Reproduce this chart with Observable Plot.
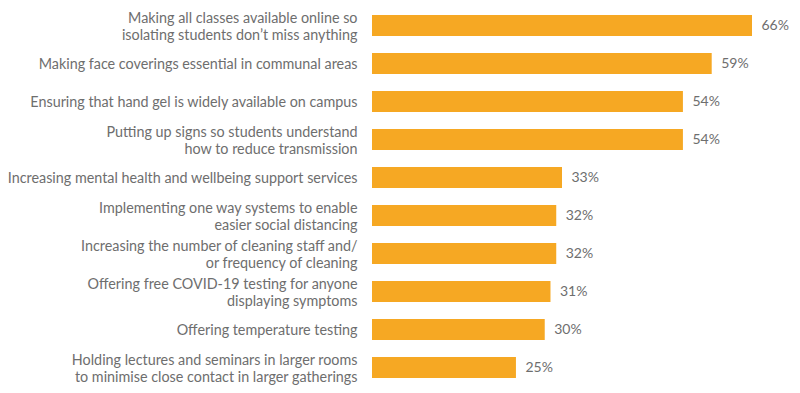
<!DOCTYPE html>
<html><head><meta charset="utf-8">
<script src="https://cdn.jsdelivr.net/npm/d3@7"></script>
<script src="https://cdn.jsdelivr.net/npm/@observablehq/plot@0.6"></script>
<style>body{margin:0;background:#fff;} svg{display:block;}</style>
</head><body><div id="chart"></div>
<script>
const categories = [
  "Making all classes available online so\nisolating students don’t miss anything",
  "Making face coverings essential in communal areas",
  "Ensuring that hand gel is widely available on campus",
  "Putting up signs so students understand\nhow to reduce transmission",
  "Increasing mental health and wellbeing support services",
  "Implementing one way systems to enable\neasier social distancing",
  "Increasing the number of cleaning staff and/\nor frequency of cleaning",
  "Offering free COVID-19 testing for anyone\ndisplaying symptoms",
  "Offering temperature testing",
  "Holding lectures and seminars in larger rooms\nto minimise close contact in larger gatherings"
];
const values = [66, 59, 54, 54, 33, 32, 32, 31, 30, 25];
const data = categories.map((c, i) => ({category: c, value: values[i]}));

const chart = Plot.plot({
  width: 800, height: 393,
  marginLeft: 372, marginRight: 48, marginTop: 0, marginBottom: 0,
  style: {fontFamily: "Lato, sans-serif", background: "#fff"},
  x: {domain: [0, 66], axis: null},
  y: {domain: categories, paddingInner: 0.45, paddingOuter: 0.37, axis: null},
  marks: [
    Plot.barX(data, {x: "value", y: "category", fill: "#F6A823"}),
    Plot.text(data, {x: 0, y: "category", text: "category", textAnchor: "end", dx: -15, fill: "#6e6e6e", fontSize: 14.35, lineHeight: 1.19}),
    Plot.text(data, {x: "value", y: "category", text: d => d.value + "%", textAnchor: "start", dx: 9, fill: "#6e6e6e", fontSize: 14})
  ]
});
document.getElementById("chart").append(chart);
</script></body></html>
